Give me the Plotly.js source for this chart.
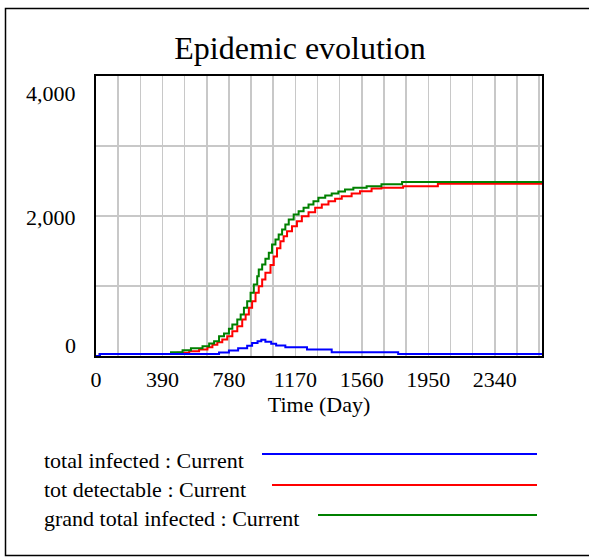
<!DOCTYPE html>
<html>
<head>
<meta charset="utf-8">
<script src="https://cdn.plot.ly/plotly-3.0.1.min.js"></script>
<style>
html, body { margin: 0; padding: 0; background: #ffffff; }
#chart { width: 589px; height: 557px; }
</style>
</head>
<body>
<div id="chart"></div>
<script>
// ---------------- DATA ----------------
const chartTitle = 'Epidemic evolution';
const xAxisTitle = 'Time (Day)';
const seriesNames = ['total infected : Current', 'tot detectable : Current', 'grand total infected : Current'];

const totalInfectedDays   = [0, 22, 722, 780, 834, 887, 916, 948, 970, 994, 1028, 1057, 1111, 1238, 1383, 1773, 2617];
const totalInfectedValues = [0, 30, 50, 80, 110, 145, 185, 211, 232, 202, 176, 150, 126, 93, 54, 30, 30];

const totDetectableDays   = [0, 22, 479, 547, 605, 654, 683, 712, 741, 770, 800, 829, 858, 878, 897, 916, 936, 955, 975, 994, 1024, 1043, 1062, 1082, 1101, 1121, 1150, 1179, 1208, 1247, 1286, 1325, 1364, 1403, 1442, 1500, 1549, 1617, 1675, 1802, 2006, 2617];
const totDetectableValues = [0, 30, 46, 69, 93, 126, 160, 197, 236, 283, 354, 426, 521, 593, 689, 783, 903, 997, 1093, 1189, 1300, 1420, 1540, 1640, 1711, 1783, 1854, 1926, 1997, 2054, 2117, 2164, 2211, 2245, 2283, 2321, 2354, 2393, 2402, 2426, 2460, 2460];

const grandTotalDays   = [0, 22, 440, 508, 557, 625, 664, 693, 722, 751, 780, 800, 829, 849, 868, 887, 907, 926, 946, 955, 975, 994, 1014, 1033, 1053, 1072, 1092, 1111, 1131, 1160, 1189, 1218, 1247, 1276, 1305, 1345, 1383, 1422, 1461, 1510, 1588, 1675, 1796, 2617];
const grandTotalValues = [0, 30, 54, 83, 111, 140, 179, 211, 283, 321, 389, 450, 521, 593, 689, 783, 903, 1021, 1140, 1236, 1307, 1389, 1474, 1593, 1664, 1736, 1807, 1879, 1950, 2021, 2069, 2117, 2164, 2211, 2260, 2293, 2321, 2350, 2379, 2402, 2426, 2455, 2486, 2486];

const xTickVals = [0, 390, 780, 1170, 1560, 1950, 2340];
const xTickText = ['0', '390', '780', '1170', '1560', '1950', '2340'];
const yTickVals = [0, 2000, 4000];
const yTickText = ['0', '2,000', '4,000'];
const timeRange = [0, 2617];
const valueRange = [0, 4000];

// ---------------- STYLE ----------------
const W = 589, H = 557;
const M = { l: 96, r: 47, t: 76, b: 201 };
const PW = W - M.l - M.r, PH = H - M.t - M.b;
const px2x = p => (p - M.l) / PW;
const py2y = p => (H - M.b - p) / PH;

const FONT = 'Liberation Serif, Times New Roman, serif';
const colors = ['#0000ff', '#ff0000', '#008000'];
const gridColor = '#c8c8c8';
const yLabelShift = [11, -1, -17];   // per y tick label, pixels
const legendRowsY = [454, 485, 515]; // line positions
const legendTextY = [460, 489, 518];
const legendLineStart = [262, 272, 318];
const legendLineEnd = 537;

// ---------------- TRACES ----------------
const traces = [
  { x: totDetectableDays, y: totDetectableValues, name: seriesNames[1], idx: 1 },
  { x: grandTotalDays, y: grandTotalValues, name: seriesNames[2], idx: 2 },
  { x: totalInfectedDays, y: totalInfectedValues, name: seriesNames[0], idx: 0 }
].map(s => ({
  type: 'scatter', mode: 'lines', x: s.x, y: s.y, name: s.name,
  line: { color: colors[s.idx], width: 2, shape: 'hv' },
  hoverinfo: 'skip', showlegend: false
}));

// ---------------- ANNOTATIONS / SHAPES ----------------
const annotations = [];
yTickVals.forEach((v, i) => {
  annotations.push({
    x: 0, xref: 'paper', y: v, yref: 'y', text: yTickText[i],
    xanchor: 'right', yanchor: 'middle', xshift: -18, yshift: yLabelShift[i],
    showarrow: false, font: { family: FONT, size: 22, color: '#000' }
  });
});
seriesNames.forEach((n, i) => {
  annotations.push({
    x: px2x(42), xref: 'paper', y: py2y(legendTextY[i]), yref: 'paper', text: n,
    xanchor: 'left', yanchor: 'middle', showarrow: false,
    font: { family: FONT, size: 22, color: '#000' }
  });
});

const shapes = [];
seriesNames.forEach((n, i) => {
  shapes.push({
    type: 'line', xref: 'paper', yref: 'paper',
    x0: px2x(legendLineStart[i]), x1: px2x(legendLineEnd),
    y0: py2y(legendRowsY[i]), y1: py2y(legendRowsY[i]),
    line: { color: colors[i], width: 2 }
  });
});
// outer frame
shapes.push({
  type: 'rect', xref: 'paper', yref: 'paper',
  x0: px2x(5.5), x1: px2x(600), y0: py2y(555.5), y1: py2y(8.5),
  line: { color: '#000', width: 1.5 }, fillcolor: 'rgba(0,0,0,0)', layer: 'below'
});

const layout = {
  width: W, height: H,
  margin: { l: M.l, r: M.r, t: M.t, b: M.b, pad: 0 },
  paper_bgcolor: '#ffffff', plot_bgcolor: '#ffffff',
  font: { family: FONT, color: '#000' },
  title: {
    text: chartTitle, font: { family: FONT, size: 32, color: '#000' },
    x: 300 / W, xref: 'container', xanchor: 'center',
    y: 1 - 48 / H, yref: 'container', yanchor: 'middle'
  },
  showlegend: false,
  xaxis: {
    range: timeRange, tickmode: 'array', tickvals: xTickVals, ticktext: xTickText,
    ticks: '', ticklabelstandoff: 3, showgrid: true, gridcolor: gridColor, gridwidth: 1.5,
    minor: { tick0: 0, dtick: 130, showgrid: true, gridcolor: gridColor, gridwidth: 1.5, ticks: '' },
    zeroline: false, showline: true, linecolor: '#000', linewidth: 2, mirror: true,
    tickfont: { family: FONT, size: 22, color: '#000' },
    title: { text: xAxisTitle, font: { family: FONT, size: 22, color: '#000' }, standoff: 4 },
    automargin: false, fixedrange: true
  },
  yaxis: {
    range: valueRange, tickmode: 'linear', tick0: 0, dtick: 1000,
    showticklabels: false, ticks: '', showgrid: true, gridcolor: gridColor, gridwidth: 1.5,
    zeroline: false, showline: true, linecolor: '#000', linewidth: 2, mirror: true,
    automargin: false, fixedrange: true
  },
  annotations: annotations,
  shapes: shapes
};

Plotly.newPlot('chart', traces, layout, { staticPlot: true, displayModeBar: false });
</script>
</body>
</html>
